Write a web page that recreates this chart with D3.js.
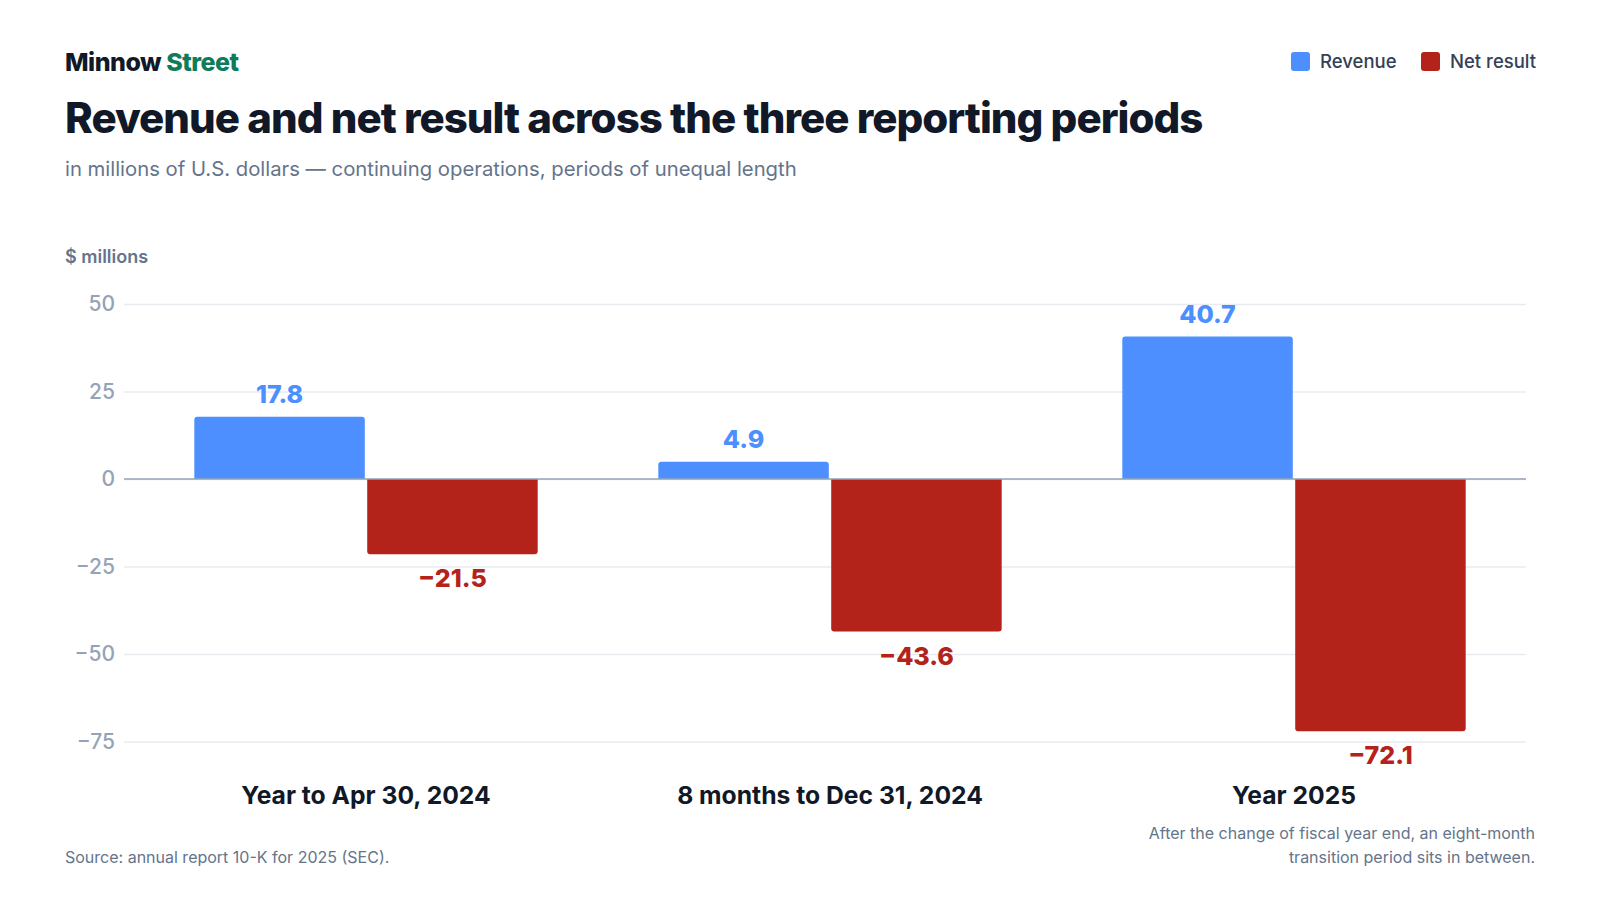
<!DOCTYPE html>
<html>
<head>
<meta charset="utf-8">
<script src="https://cdn.jsdelivr.net/npm/d3@7"></script>
<style>
  html, body { margin: 0; padding: 0; background: #ffffff; }
  svg { display: block; font-family: Inter, "Noto Sans", sans-serif; }
</style>
</head>
<body>
<svg id="chart" width="1600" height="900"></svg>
<script>
// data
const periods = ['Year to Apr 30, 2024', '8 months to Dec 31, 2024', 'Year 2025']
const seriesNames = ['Revenue', 'Net result']
const revenue = [17.8, 4.9, 40.7]
const netResult = [-21.5, -43.6, -72.1]
const yTicks = [50, 25, 0, -25, -50, -75]

const colors = { 'Revenue': '#4d8ffe', 'Net result': '#b3231a' }
const fmt = v => (v < 0 ? '\u2212' : '') + Math.abs(v).toFixed(1)

const svg = d3.select('#chart')
const plot = { left: 134, right: 1526, top: 304, bottom: 759 }

const rows = periods.map((p, i) => ({
    period: p,
    values: [
        { key: 'Revenue', value: revenue[i] },
        { key: 'Net result', value: netResult[i] }
    ]
}))

const x0 = d3.scaleBand().domain(periods).range([plot.left, plot.right])
    .paddingInner(0.26).paddingOuter(0.13)
const x1 = d3.scaleBand().domain(seriesNames).range([0, x0.bandwidth()]).paddingInner(0.014)
const y = d3.scaleLinear().domain([-80, 50]).range([plot.bottom, plot.top])

// header
const brand = svg.append('text').attr('x', 65).attr('y', 71)
    .style('font-size', '25px').style('font-weight', 800).style('letter-spacing', '-0.5px')
brand.append('tspan').text('Minnow ').style('fill', '#111827')
brand.append('tspan').text('Street').style('fill', '#0e7c5a')

svg.append('text').attr('x', 65).attr('y', 133)
    .text('Revenue and net result across the three reporting periods')
    .style('font-size', '42px').style('font-weight', 800).style('fill', '#111827')
    .style('letter-spacing', '-0.97px')

svg.append('text').attr('x', 65).attr('y', 176)
    .text('in millions of U.S. dollars \u2014 continuing operations, periods of unequal length')
    .style('font-size', '20.3px').style('fill', '#64748b')

// legend
const legend = svg.append('g')
const legendX = [1291, 1421]
seriesNames.forEach((name, i) => {
    const g = legend.append('g').attr('transform', `translate(${legendX[i]},52)`)
    g.append('rect').attr('width', 19).attr('height', 19).attr('rx', 3).attr('fill', colors[name])
    g.append('text').attr('x', 29).attr('y', 16).text(name)
        .style('font-size', '18.5px').style('font-weight', 500).style('fill', '#334155')
})

// y axis label
svg.append('text').attr('x', 65).attr('y', 263).text('$ millions')
    .style('font-size', '18px').style('font-weight', 600).style('fill', '#64748b')

// gridlines + ticks
const yAxis = d3.axisLeft(y).tickValues(yTicks).tickSize(-(plot.right - 124))
    .tickPadding(9).tickFormat(d => (d < 0 ? '\u2212' : '') + Math.abs(d))
const gy = svg.append('g').attr('transform', 'translate(124,0)').call(yAxis)
gy.select('.domain').remove()
gy.selectAll('.tick line').attr('stroke', '#e8ebf0').attr('stroke-width', 1.5)
gy.selectAll('.tick text').style('font-size', '21px').style('font-weight', 500)
    .style('fill', '#94a3b8').style('font-family', 'Inter, sans-serif')
    .attr('x', -9)

// bars with rounded outer end
function barPath(x, w, v) {
    const y0 = y(0), y1 = y(v), r = 3
    if (v >= 0) {
        return `M${x},${y0}V${y1 + r}Q${x},${y1} ${x + r},${y1}H${x + w - r}Q${x + w},${y1} ${x + w},${y1 + r}V${y0}Z`
    }
    return `M${x},${y0}V${y1 - r}Q${x},${y1} ${x + r},${y1}H${x + w - r}Q${x + w},${y1} ${x + w},${y1 - r}V${y0}Z`
}

const groups = svg.append('g').selectAll('g').data(rows).join('g')
    .attr('transform', d => `translate(${x0(d.period)},0)`)

groups.selectAll('path').data(d => d.values).join('path')
    .attr('d', d => barPath(x1(d.key), x1.bandwidth(), d.value))
    .attr('fill', d => colors[d.key])

groups.selectAll('text.val').data(d => d.values).join('text')
    .attr('class', 'val')
    .attr('x', d => x1(d.key) + x1.bandwidth() / 2)
    .attr('y', d => d.value >= 0 ? y(d.value) - 14 : y(d.value) + 33)
    .attr('text-anchor', 'middle')
    .text(d => fmt(d.value))
    .style('font-size', '25px').style('font-weight', 800)
    .style('fill', d => colors[d.key])

// zero line
svg.append('line').attr('x1', 124).attr('x2', plot.right)
    .attr('y1', y(0)).attr('y2', y(0))
    .attr('stroke', '#94a3b8').attr('stroke-width', 1.5)

// category labels
const xAxis = d3.axisBottom(x0).tickSize(0).tickPadding(0)
const gx = svg.append('g').attr('transform', 'translate(0,785)').call(xAxis)
gx.select('.domain').remove()
gx.selectAll('.tick text').attr('dy', 0).attr('y', 19)
    .style('font-size', '24.7px').style('font-weight', 700).style('fill', '#111827')
    .style('font-family', 'Inter, sans-serif')

// footer
svg.append('text').attr('x', 65).attr('y', 863)
    .text('Source: annual report 10-K for 2025 (SEC).')
    .style('font-size', '16px').style('fill', '#64748b')

const note = svg.append('text').attr('text-anchor', 'end')
    .style('font-size', '16px').style('fill', '#64748b')
note.append('tspan').attr('x', 1535).attr('y', 839)
    .text('After the change of fiscal year end, an eight-month')
note.append('tspan').attr('x', 1535).attr('y', 863)
    .text('transition period sits in between.')
</script>
</body>
</html>
